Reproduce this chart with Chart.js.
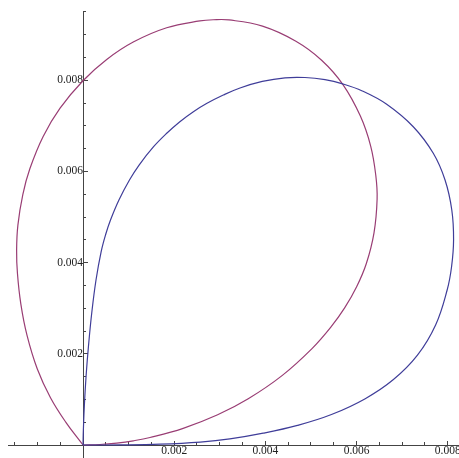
<!DOCTYPE html>
<html><head><meta charset="utf-8">
<script src="https://cdn.jsdelivr.net/npm/chart.js@4.4.1/dist/chart.umd.min.js"></script>
<style>html,body{margin:0;padding:0;background:#fff;overflow:hidden}canvas{display:block}</style>
</head><body>
<canvas id="c" width="459" height="458"></canvas>
<script>
// Blue curve (first series)
const blueX = [0, 0.000008, 0.000030, 0.000069, 0.000122, 0.000194, 0.000285, 0.000396, 0.000500, 0.000603,
  0.000788, 0.001019, 0.001230, 0.001548, 0.001836, 0.002124, 0.002421, 0.002719, 0.003077, 0.003443,
  0.003932, 0.004430, 0.004868, 0.005307, 0.005695, 0.006125, 0.006660, 0.007243, 0.007682, 0.007940,
  0.008088, 0.008127, 0.008083, 0.007986, 0.007733, 0.007335, 0.006808, 0.006190, 0.005449, 0.004703,
  0.003952, 0.003220, 0.002571, 0.001695, 0.000811, 0];
const blueY = [0, 0.000329, 0.000877, 0.001535, 0.002193, 0.002917, 0.003618, 0.004232, 0.004627, 0.004934,
  0.005373, 0.005811, 0.006140, 0.006542, 0.006836, 0.007090, 0.007309, 0.007493, 0.007675, 0.007829,
  0.007973, 0.008053, 0.008060, 0.008012, 0.007920, 0.007765, 0.007473, 0.006980, 0.006397, 0.005811,
  0.005154, 0.004496, 0.003910, 0.003399, 0.002632, 0.001970, 0.001435, 0.001016, 0.000668, 0.000430,
  0.000259, 0.000133, 0.000064, 0.000018, 0.0000024, 0];

// Purple curve (second series)
const purpleX = [0, -0.000379, -0.000713, -0.001002, -0.001229, -0.001363, -0.001438, -0.001456, -0.001428, -0.001319,
  -0.001166, -0.000874, -0.000503, 0, 0.000520, 0.001102, 0.001835, 0.002564, 0.002857, 0.003202,
  0.003936, 0.004669, 0.005233, 0.005701, 0.006083, 0.006309, 0.006422, 0.006450, 0.006382, 0.006214,
  0.006001, 0.005738, 0.005431, 0.005022, 0.004372, 0.003624, 0.002953, 0.002197, 0.001469, 0.001103,
  0.000739, 0.000373, 0];
const purpleY = [0, 0.000503, 0.001037, 0.001668, 0.002411, 0.003091, 0.003766, 0.004277, 0.004822, 0.005497,
  0.006057, 0.006767, 0.007387, 0.007989, 0.008455, 0.008837, 0.009150, 0.009300, 0.009326, 0.009322,
  0.009186, 0.008855, 0.008439, 0.007905, 0.007213, 0.006556, 0.005906, 0.005393, 0.004654, 0.003980,
  0.003470, 0.003006, 0.002579, 0.002114, 0.001527, 0.001014, 0.000663, 0.000366, 0.000164, 0.000092,
  0.000042, 0.000011, 0];

// Ticks
const xMajorTicks = [0.002, 0.004, 0.006, 0.008];
const xTickLabels = ['0.002', '0.004', '0.006', '0.008'];
const yMajorTicks = [0.002, 0.004, 0.006, 0.008];
const yTickLabels = ['0.002', '0.004', '0.006', '0.008'];
const xMinorTicks = [-0.0015, -0.001, -0.0005, 0.0005, 0.001, 0.0015, 0.0025, 0.003, 0.0035, 0.0045, 0.005, 0.0055, 0.0065, 0.007, 0.0075];
const yMinorTicks = [0.0005, 0.001, 0.0015, 0.0025, 0.003, 0.0035, 0.0045, 0.005, 0.0055, 0.0065, 0.007, 0.0075, 0.0085, 0.009, 0.0095];

const XMIN = -0.001645, XMAX = 0.008246, YMIN = -0.000285, YMAX = 0.009518;
const AXIS = '#444444';
const FONT = {family: "'Liberation Serif', 'DejaVu Serif', serif", size: 11.5};
const noPad = s => { s.paddingLeft = 0; s.paddingRight = 0; s.paddingTop = 0; s.paddingBottom = 0; };

const toPts = (xs, ys) => xs.map((x, i) => ({x: x, y: ys[i]}));

new Chart(document.getElementById('c'), {
  type: 'scatter',
  data: {
    datasets: [
      {data: toPts(blueX, blueY), showLine: true, borderColor: '#3f3d99', borderWidth: 1.2,
       pointRadius: 0, tension: 0.4, fill: false, clip: false},
      {data: toPts(purpleX, purpleY), showLine: true, borderColor: '#993d74', borderWidth: 1.2,
       pointRadius: 0, tension: 0.4, fill: false, clip: false}
    ]
  },
  options: {
    responsive: false,
    animation: false,
    events: [],
    layout: {padding: {left: 8, top: 11, right: 0, bottom: 0}},
    plugins: {legend: {display: false}, tooltip: {enabled: false}},
    scales: {
      x: {
        type: 'linear', position: {y: 0}, min: XMIN, max: XMAX,
        afterBuildTicks: s => { s.ticks = xMajorTicks.map(v => ({value: v})); },
        afterFit: noPad,
        ticks: {callback: (v, i) => xTickLabels[i], padding: 4.5, font: FONT, color: '#222',
                autoSkip: false, minRotation: 0, maxRotation: 0, includeBounds: false},
        grid: {drawOnChartArea: false, tickLength: -5, tickColor: AXIS, tickWidth: 1},
        border: {display: true, color: AXIS, width: 1}
      },
      xMinor: {
        type: 'linear', position: {y: 0}, min: XMIN, max: XMAX,
        afterBuildTicks: s => { s.ticks = xMinorTicks.map(v => ({value: v})); },
        afterFit: noPad,
        ticks: {display: false, autoSkip: false, includeBounds: false},
        grid: {drawOnChartArea: false, tickLength: -3, tickColor: AXIS, tickWidth: 1},
        border: {display: false}
      },
      y: {
        type: 'linear', position: {x: 0}, min: YMIN, max: YMAX,
        afterBuildTicks: s => { s.ticks = yMajorTicks.map(v => ({value: v})); },
        afterFit: noPad,
        ticks: {callback: (v, i) => yTickLabels[i], padding: 9, font: FONT, color: '#222',
                autoSkip: false, includeBounds: false},
        grid: {drawOnChartArea: false, tickLength: -5, tickColor: AXIS, tickWidth: 1},
        border: {display: true, color: AXIS, width: 1}
      },
      yMinor: {
        type: 'linear', position: {x: 0}, min: YMIN, max: YMAX,
        afterBuildTicks: s => { s.ticks = yMinorTicks.map(v => ({value: v})); },
        afterFit: noPad,
        ticks: {display: false, autoSkip: false, includeBounds: false},
        grid: {drawOnChartArea: false, tickLength: -3, tickColor: AXIS, tickWidth: 1},
        border: {display: false}
      }
    }
  }
});
</script>
</body></html>
